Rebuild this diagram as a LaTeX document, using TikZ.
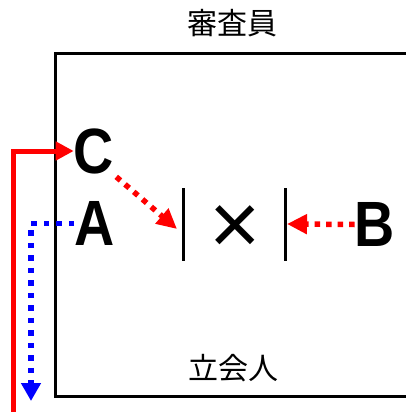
\documentclass[tikz,border=0pt]{standalone}
\usepackage{fontspec}
\setmainfont{Liberation Sans}
\newfontfamily\jpfont{Noto Sans CJK JP}
\usetikzlibrary{arrows.meta}
\tikzset{
  letter/.style={inner sep=0pt, xscale=0.87, font=\fontsize{64}{64}\selectfont\bfseries},
  jplabel/.style={inner sep=0pt, font=\jpfont\fontsize{30}{30}\selectfont},
  frame/.style={line width=3pt, black},
  bar/.style={line width=3pt, black},
  redsolid/.style={line width=5pt, red, -{Triangle[length=18pt,width=18pt]}},
  reddot/.style={line width=5.5pt, red, dash pattern=on 5.5pt off 6pt, -{Triangle[length=20pt,width=19pt]}},
  bluedot/.style={line width=5.5pt, blue, dash pattern=on 5.5pt off 7pt, -{Triangle[length=18pt,width=19pt]}},
}
\begin{document}
\begin{tikzpicture}[x=1pt,y=-1pt]
\useasboundingbox (0,0) rectangle (406,412);
% frame
\draw[frame] (406,54) -| (55,396) -- (406,396);
% labels
\node[jplabel] (title) at (232,23) {審査員};
\node[jplabel] (bottom) at (233,368) {立会人};
% letters
\node[letter] (C) at (94,151) {C};
\node[letter] (A) at (94.5,223.5) {A};
\node[letter] (B) at (375,224.5) {B};
\node[inner sep=0pt, font=\fontsize{88}{88}\selectfont] (X) at (235,230) {×};
% bars
\draw[bar] (183,188) -- (183,261);
\draw[bar] (285,188) -- (285,261);
\coordinate (t1) at (177,229);
\coordinate (t2) at (287,224);
\coordinate (rs) at (13,412);
\coordinate (be) at (31,401);
% connectors
\draw[redsolid] (rs) |- (C.west);
\draw[reddot] (C.south east) ++(2,3) -- (t1);
\draw[reddot] (B.west) -- (t2);
\draw[bluedot] (A.west) -| (be);
\end{tikzpicture}
\end{document}
